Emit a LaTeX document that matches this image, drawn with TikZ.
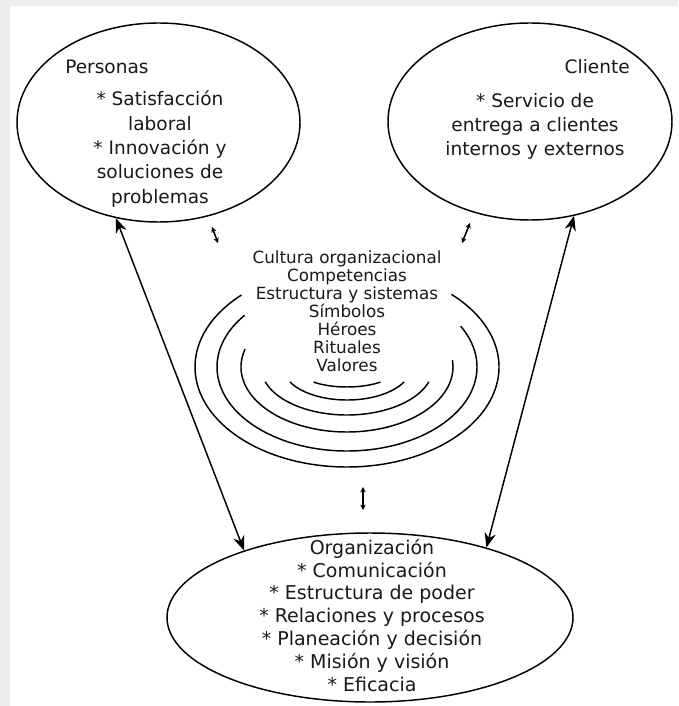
\documentclass[tikz,border=0pt]{standalone}
\usepackage{fontspec}
\setmainfont{DejaVu Sans}
\usetikzlibrary{shapes.geometric,arrows.meta}

\tikzset{
  bubble/.style={draw, ellipse, line width=1.1pt, inner sep=0pt},
  bigtext/.style={font=\fontsize{13.9pt}{18.2pt}\selectfont, align=center, inner sep=0pt, text=black!90},
  orgtext/.style={font=\fontsize{14.25pt}{17.1pt}\selectfont, align=center, inner sep=0pt, text=black!90},
  ringtext/.style={font=\fontsize{12.6pt}{13.5pt}\selectfont, align=center, inner sep=0pt, text=black!90},
  longarrow/.style={{Stealth[length=11pt,width=8.5pt]}-{Stealth[length=11pt,width=8.5pt]}, line width=1.1pt},
  tinyarrow/.style={{Stealth[length=4pt,width=4pt]}-{Stealth[length=4pt,width=4pt]}, line width=1.2pt},
  ring/.style={line width=1.1pt}
}

\begin{document}
\begin{tikzpicture}[x=0.75pt,y=0.75pt]
  \fill[white] (0,0) rectangle (678,-706);
  \fill[black!7] (0,0) rectangle (10,-706);
  \fill[black!7] (0,0) rectangle (678,-6);
  \useasboundingbox (0,0) rectangle (678,-706);

  % Personas
  \node[bubble, minimum width=212.25pt, minimum height=149.25pt] (personas) at (158.5,-122.5) {};
  \node[bigtext, anchor=base west] (personas-t) at (65,-74) {Personas};
  \node[bigtext, anchor=base] (personas-l) at (160,-203) {* Satisfacción\\laboral\\* Innovación y\\soluciones de\\problemas};

  % Cliente
  \node[bubble, minimum width=213pt, minimum height=147.75pt] (cliente) at (530,-121.5) {};
  \node[bigtext, anchor=base east] (cliente-t) at (630,-74) {Cliente};
  \node[bigtext, anchor=base] (cliente-l) at (535,-156) {* Servicio de\\entrega a clientes\\internos y externos};

  % Organizacion
  \node[bubble, minimum width=304.5pt, minimum height=126.75pt] (org) at (370,-617.5) {};
  \node[orgtext, anchor=base] (org-l) at (372,-691) {Organización\\* Comunicación\\* Estructura de poder\\* Relaciones y procesos\\* Planeación y decisión\\* Misión y visión\\* Eficacia};

  % Cultura
  \node[ringtext, anchor=base] (cultura) at (347,-371) {Cultura organizacional\\Competencias\\Estructura y sistemas\\Símbolos\\Héroes\\Rituales\\Valores};
  \def\cx{347}
  \def\cy{-367}
  \foreach \a/\b/\rx/\ry in {134/406.6/152/100, 142/389/130/84, 164/366/106/65,
                             198/342/86/48, 207/333/64/33, 229/311/51/20}
    \draw[ring] (\cx,\cy) ++(\a:{\rx} and {\ry}) arc[start angle=\a, end angle=\b, x radius=\rx, y radius=\ry];

  % flechas
  \draw[longarrow] (personas.246) -- (org.152);
  \draw[longarrow] (cliente.295) -- (org.31);

  \coordinate (pa) at (212,-227);
  \coordinate (pb) at (218,-243);
  \coordinate (ca) at (470,-223);
  \coordinate (cb) at (462,-243);
  \coordinate (oa) at (363,-487);
  \coordinate (ob) at (363,-510);
  \draw[tinyarrow] (pa) -- (pb);
  \draw[tinyarrow] (ca) -- (cb);
  \draw[tinyarrow] (oa) -- (ob);
\end{tikzpicture}
\end{document}
